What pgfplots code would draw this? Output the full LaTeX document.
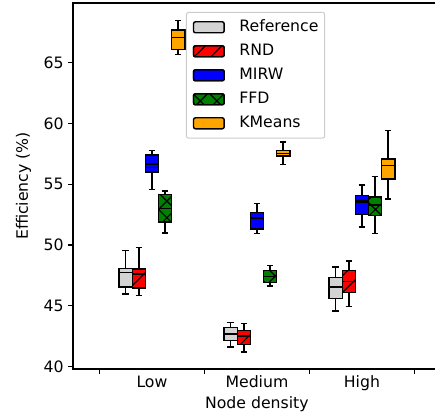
\documentclass[border=0pt]{standalone}
\usepackage{fontspec}
\setmainfont{DejaVu Sans}
\usepackage{pgfplots}
\pgfplotsset{compat=1.18}
\usetikzlibrary{patterns.meta}
\definecolor{lgray}{RGB}{211,211,211}
\definecolor{mgreen}{RGB}{0,128,0}
\definecolor{morange}{RGB}{255,165,0}
\newcommand{\fs}{\fontsize{15.7}{18}\selectfont}
\pgfplotsset{
  wl/.style={draw=black, line width=1.5pt, mark=none, forget plot, line cap=butt, line join=miter},
  sRef/.style={fill=lgray},
  sRND/.style={fill=red, postaction={pattern={Lines[angle=45,distance=11.8pt,line width=1.2pt]}, pattern color=black}},
  sMIRW/.style={fill=blue, postaction={pattern={Lines[angle=0,distance=16.7pt,line width=1.2pt]}, pattern color=black}},
  sFFD/.style={fill=mgreen, postaction={pattern={Hatch[angle=45,distance=11.8pt,line width=1.2pt]}, pattern color=black}},
  sKM/.style={fill=morange},
  lg/.style={legend image code/.code={\draw[##1, draw=black, line width=1.4pt] (0pt,-5.5pt) rectangle (30.7pt,5.5pt);}},
}
% style, position, lower whisker, lower quartile, median, upper quartile, upper whisker
\newcommand{\mybox}[7]{%
\pgfmathsetmacro\xa{#2-0.0625}%
\pgfmathsetmacro\xb{#2+0.0625}%
\pgfmathsetmacro\ca{#2-0.03125}%
\pgfmathsetmacro\cb{#2+0.03125}%
\addplot[wl] coordinates {(#2,#3) (#2,#4)};
\addplot[wl] coordinates {(#2,#6) (#2,#7)};
\addplot[wl] coordinates {(\ca,#3) (\cb,#3)};
\addplot[wl] coordinates {(\ca,#7) (\cb,#7)};
\addplot[wl, #1] coordinates {(\xa,#4) (\xb,#4) (\xb,#6) (\xa,#6)} -- cycle;
\addplot[wl] coordinates {(\xa,#5) (\xb,#5)};
}
\begin{document}
\begin{tikzpicture}
\begin{axis}[
  scale only axis, width=367.7pt, height=366pt,
  xmin=-0.752, xmax=2.75, ymin=39.8, ymax=69.9,
  axis line style={line width=1.1pt},
  tick style={line width=1.1pt, black},
  major tick length=4.9pt, tick align=outside,
  xtick={-0.5,0.5,1.5,2.5}, xticklabels={},
  extra x ticks={0,1,2}, extra x tick labels={Low,Medium,High},
  extra x tick style={major tick length=0pt, xticklabel style={anchor=base, yshift=-18pt}},
  ytick={40,45,50,55,60,65},
  xtick pos=bottom, ytick pos=left,
  tick label style={font=\fs},
  yticklabel style={xshift=-1pt},
  /pgf/number format/assume math mode=true,
  xlabel={Node density}, ylabel={Efficiency (\%)},
  every axis x label/.style={at={([yshift=-35pt]rel axis cs:0.5,0)}, anchor=center, font=\fs},
  every axis y label/.style={at={([xshift=-49.5pt]rel axis cs:0,0.5)}, anchor=center, rotate=90, font=\fs},
  legend style={at={(axis cs:0.324,69.16)}, anchor=north west, draw=black!20, rounded corners=2pt, line width=1pt, font=\fs, inner xsep=6.3pt, inner ysep=7.3pt, row sep=9pt, column sep=14.5pt, nodes={inner sep=0pt, text height=11.5pt, text depth=3.5pt}},
  legend cell align=left,
]
\addlegendimage{lg, fill=lgray}
\addlegendentry{Reference}
\addlegendimage{lg, fill=red, postaction={pattern={Lines[angle=45,distance=11.8pt,line width=1.2pt]}, pattern color=black}}
\addlegendentry{RND}
\addlegendimage{lg, fill=blue, postaction={pattern={Lines[angle=0,distance=16.7pt,line width=1.2pt]}, pattern color=black}}
\addlegendentry{MIRW}
\addlegendimage{lg, fill=mgreen, postaction={pattern={Hatch[angle=45,distance=11.8pt,line width=1.2pt]}, pattern color=black}}
\addlegendentry{FFD}
\addlegendimage{lg, fill=morange}
\addlegendentry{KMeans}
% Low
\mybox{sRef}{-0.25}{45.97}{46.55}{47.73}{48.08}{49.56}
\mybox{sRND}{-0.125}{45.86}{46.47}{47.6}{48.03}{49.79}
\mybox{sMIRW}{0}{54.56}{56.0}{56.64}{57.38}{57.76}
\mybox{sFFD}{0.125}{51.0}{51.9}{53.0}{54.15}{54.44}
\mybox{sKM}{0.25}{65.68}{66.07}{67.06}{67.66}{68.48}
% Medium
\mybox{sRef}{0.75}{41.59}{42.16}{42.66}{43.23}{43.64}
\mybox{sRND}{0.875}{41.18}{41.81}{42.5}{42.96}{43.54}
\mybox{sMIRW}{1}{50.94}{51.32}{52.2}{52.66}{53.4}
\mybox{sFFD}{1.125}{46.63}{46.93}{47.4}{47.92}{48.33}
\mybox{sKM}{1.25}{56.61}{57.3}{57.52}{57.79}{58.47}
% High
\mybox{sRef}{1.75}{44.55}{45.59}{46.55}{47.32}{48.19}
\mybox{sRND}{1.875}{44.96}{46.09}{47.0}{47.92}{48.68}
\mybox{sMIRW}{2}{51.46}{52.5}{53.54}{54.06}{54.94}
\mybox{sFFD}{2.125}{50.94}{52.42}{53.3}{53.95}{55.65}
\mybox{sKM}{2.25}{53.78}{55.43}{56.55}{57.07}{59.43}
\coordinate (SW) at (rel axis cs:0,0);
\coordinate (NW) at (rel axis cs:0,1);
\end{axis}
\pgfresetboundingbox
\path[use as bounding box] ([xshift=-73pt,yshift=-49pt]SW) rectangle ([xshift=362pt,yshift=3pt]NW);
\end{tikzpicture}
\end{document}
